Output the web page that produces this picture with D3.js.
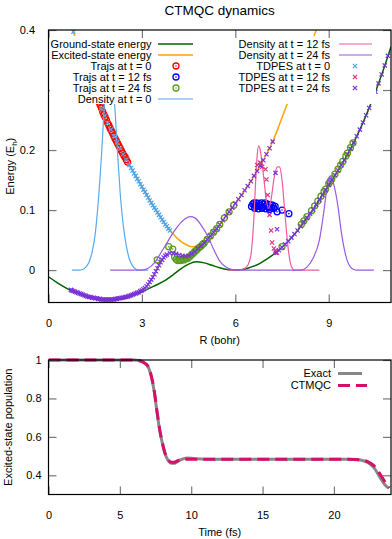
<!DOCTYPE html>
<html>
<head>
<meta charset="utf-8">
<script src="https://cdn.jsdelivr.net/npm/d3@7"></script>
<style>
body { margin: 0; background: #fff; }
text { font-family: "Liberation Sans", Arial, sans-serif; font-size: 11px; fill: #000; }
</style>
</head>
<body>
<div id="chart"></div>
<script>
// ---- top panel data: [R (bohr), E (Eh)] ----
var groundPts = [[0,-0.011],[0.25,-0.020],[0.5,-0.028],[0.75,-0.035],[1,-0.040],[1.25,-0.045],[1.5,-0.048],[1.75,-0.050],[2,-0.050],[2.25,-0.049],[2.5,-0.046],[2.75,-0.041],[3,-0.036],[3.25,-0.030],[3.5,-0.024],[3.75,-0.017],[4,-0.008],[4.25,0.002],[4.5,0.010],[4.75,0.014],[5,0.012],[5.25,0.008],[5.5,0.004],[5.75,0.001],[6,0.000],[6.25,0.001],[6.5,0.005],[6.75,0.010],[7,0.018],[7.25,0.027],[7.5,0.038],[7.75,0.051],[8,0.066],[8.25,0.083],[8.5,0.101],[8.75,0.121],[9,0.142],[9.25,0.162],[9.5,0.183],[9.75,0.207],[10,0.234],[10.25,0.264],[10.5,0.297],[10.75,0.333],[11,0.372]];
var excitedPts = [[0.6,0.430],[0.78,0.400],[1.0,0.366],[1.2,0.337],[1.4,0.309],[1.6,0.282],[1.8,0.257],[2.0,0.234],[2.2,0.213],[2.4,0.193],[2.6,0.175],[2.8,0.157],[3.0,0.139],[3.2,0.121],[3.4,0.104],[3.6,0.088],[3.8,0.073],[4.0,0.060],[4.2,0.050],[4.4,0.043],[4.6,0.039],[4.8,0.039],[5.0,0.045],[5.2,0.056],[5.4,0.069],[5.6,0.083],[5.8,0.097],[6.0,0.111],[6.2,0.125],[6.4,0.140],[6.6,0.157],[6.8,0.174],[7.0,0.193],[7.2,0.214],[7.4,0.240],[7.6,0.268],[7.8,0.294],[8.0,0.320],[8.2,0.346],[8.4,0.373],[8.6,0.400],[8.8,0.428]];

var traj0 = [[1.58,0.285],[1.62,0.280],[1.66,0.275],[1.70,0.270],[1.74,0.264],[1.78,0.259],[1.82,0.255],[1.86,0.250],[1.90,0.245],[1.94,0.241],[1.98,0.236],[2.02,0.232],[2.06,0.228],[2.10,0.223],[2.14,0.219],[2.18,0.215],[2.22,0.211],[2.26,0.207],[2.30,0.203],[2.34,0.199],[2.38,0.195],[2.42,0.191],[2.46,0.188],[2.50,0.184],[2.54,0.180]];
var traj12 = [[6.52,0.106],[6.56,0.110],[6.60,0.112],[6.64,0.108],[6.68,0.112],[6.72,0.106],[6.76,0.111],[6.80,0.108],[6.84,0.112],[6.88,0.105],[6.92,0.110],[6.96,0.112],[7.00,0.106],[7.04,0.110],[7.08,0.104],[7.12,0.109],[7.16,0.104],[7.20,0.108],[7.24,0.103],[7.28,0.106],[6.62,0.103],[6.74,0.102],[6.86,0.103],[6.98,0.102],[7.10,0.101],[7.34,0.097],[7.50,0.100],[7.72,0.094]];
var traj24 = [[3.49,0.017],[3.86,0.039],[3.99,0.035],[4.05,0.022],[4.10,0.018],[4.15,0.016],[4.20,0.018],[4.25,0.016],[4.30,0.019],[4.35,0.017],[4.40,0.020],[4.45,0.019],[4.50,0.021],[4.55,0.023],[4.60,0.026],[4.65,0.028],[4.70,0.031],[4.75,0.033],[4.80,0.036],[4.85,0.038],[4.90,0.040],[4.95,0.043],[5.00,0.045],[5.10,0.051],[5.20,0.057],[5.30,0.063],[5.40,0.069],[5.50,0.076],[5.65,0.087],[5.80,0.097],[5.95,0.108],[7.50,0.039],[8.12,0.076],[8.20,0.082],[8.30,0.089],[8.45,0.099],[8.55,0.107],[8.65,0.115],[8.75,0.123],[8.85,0.131],[8.90,0.135],[9.00,0.144],[9.05,0.148],[9.10,0.152],[9.20,0.160],[9.30,0.168],[9.38,0.175],[9.45,0.181],[9.55,0.190],[9.60,0.195],[9.70,0.204],[9.78,0.212]];

var dens0 = [[0.75,0],[1.0,0],[1.1,0.001],[1.2,0.005],[1.3,0.013],[1.4,0.03],[1.5,0.06],[1.55,0.085],[1.6,0.115],[1.65,0.15],[1.7,0.19],[1.75,0.235],[1.8,0.28],[1.85,0.32],[1.9,0.345],[1.95,0.355],[2.0,0.35],[2.05,0.33],[2.1,0.295],[2.15,0.255],[2.2,0.21],[2.25,0.17],[2.3,0.13],[2.35,0.1],[2.4,0.075],[2.5,0.04],[2.6,0.018],[2.7,0.007],[2.8,0.002],[2.9,0],[3.2,0]];
var dens12 = [[5.75,0],[6.1,0],[6.2,0.001],[6.3,0.003],[6.4,0.008],[6.5,0.025],[6.55,0.05],[6.6,0.09],[6.65,0.145],[6.7,0.19],[6.75,0.207],[6.8,0.2],[6.9,0.16],[7.0,0.115],[7.07,0.103],[7.15,0.118],[7.25,0.155],[7.35,0.172],[7.42,0.172],[7.5,0.15],[7.6,0.09],[7.7,0.035],[7.8,0.006],[7.9,0],[8.7,0]];
var dens24 = [[1.98,0],[3.0,0],[3.2,0.003],[3.4,0.012],[3.6,0.028],[3.8,0.045],[4.0,0.062],[4.2,0.076],[4.4,0.086],[4.55,0.089],[4.7,0.087],[4.9,0.075],[5.1,0.058],[5.3,0.035],[5.5,0.015],[5.7,0.005],[5.9,0.001],[6.1,0],[8.1,0],[8.3,0.005],[8.5,0.02],[8.7,0.05],[8.85,0.1],[8.95,0.14],[9.05,0.157],[9.15,0.145],[9.3,0.105],[9.4,0.065],[9.5,0.035],[9.6,0.015],[9.7,0.005],[9.8,0.001],[9.9,0],[10.45,0]];

var tdpes0 = [[0.8,0.397],[0.9,0.382],[1.0,0.366],[1.1,0.351],[1.2,0.337],[1.3,0.323],[1.4,0.309],[1.5,0.295],[1.6,0.282],[1.7,0.269],[1.8,0.257],[1.9,0.245],[2.0,0.234],[2.1,0.223],[2.2,0.213],[2.3,0.203],[2.4,0.193],[2.5,0.184],[2.6,0.175],[2.65,0.170],[2.7,0.166],[2.75,0.161],[2.8,0.157],[2.85,0.152],[2.9,0.148],[2.95,0.143],[3.0,0.139],[3.05,0.134],[3.1,0.130],[3.15,0.125],[3.2,0.121],[3.25,0.116],[3.3,0.112],[3.35,0.108],[3.4,0.104],[3.45,0.100],[3.5,0.096],[3.55,0.092],[3.6,0.088],[3.65,0.084],[3.7,0.080],[3.75,0.076],[3.8,0.073],[3.85,0.069],[3.9,0.066]];
var tdpes12 = [[6.70,0.175],[6.80,0.179],[6.86,0.172],[6.97,0.168],[7.00,0.151],[7.04,0.125],[7.10,0.092],[7.15,0.066],[7.18,0.046],[7.24,0.036],[7.29,0.032],[7.34,0.029]];
var tdpes24 = [[0.72,-0.033],[0.75,-0.034],[0.8,-0.035],[0.85,-0.036],[0.9,-0.037],[0.95,-0.038],[1.0,-0.039],[1.05,-0.040],[1.1,-0.041],[1.15,-0.042],[1.2,-0.043],[1.25,-0.044],[1.3,-0.045],[1.35,-0.045],[1.4,-0.046],[1.45,-0.046],[1.5,-0.047],[1.55,-0.047],[1.6,-0.048],[1.65,-0.048],[1.7,-0.049],[1.75,-0.049],[1.8,-0.049],[1.85,-0.049],[1.9,-0.049],[1.95,-0.049],[2.0,-0.049],[2.05,-0.049],[2.1,-0.049],[2.15,-0.048],[2.2,-0.048],[2.25,-0.047],[2.3,-0.047],[2.35,-0.046],[2.4,-0.046],[2.45,-0.045],[2.5,-0.045],[2.55,-0.044],[2.6,-0.043],[2.65,-0.042],[2.7,-0.041],[2.75,-0.040],[2.8,-0.039],[2.85,-0.038],[2.9,-0.037],[2.95,-0.035],[3.0,-0.034],[3.05,-0.032],[3.1,-0.030],[3.15,-0.027],
  [3.2,-0.024],[3.25,-0.020],[3.3,-0.016],[3.35,-0.012],[3.4,-0.007],[3.45,-0.002],[3.5,0.003],[3.55,0.008],[3.6,0.013],[3.65,0.017],[3.7,0.021],[3.75,0.024],[3.8,0.026],[3.9,0.028],[4.0,0.028],[4.1,0.027],[4.2,0.025],[4.3,0.024],[4.4,0.023],[4.5,0.024],[4.6,0.027],
  [4.7,0.031],[4.8,0.036],[4.9,0.040],[5.0,0.045],[5.1,0.051],[5.2,0.057],[5.3,0.063],[5.4,0.069],[5.5,0.076],[5.6,0.083],[5.7,0.090],[5.8,0.097],[5.9,0.104],[6.0,0.111],[6.1,0.118],[6.2,0.125],[6.3,0.133],[6.4,0.140],[6.5,0.148],[6.6,0.157],[6.7,0.165],[6.8,0.174],[6.9,0.183],[7.0,0.193],[7.1,0.203],[7.2,0.214],
  [7.29,0.162],[7.34,0.068],
  [7.3,0.029],[7.4,0.033],[7.5,0.038],[7.6,0.043],[7.7,0.048],[7.8,0.054],[7.9,0.060],[8.0,0.066],[8.1,0.073],[8.2,0.080],[8.3,0.087],[8.4,0.094],[8.5,0.101],[8.6,0.109],[8.7,0.117],[8.8,0.125],[8.9,0.133],[9.0,0.142],[9.1,0.150],[9.2,0.158],[9.3,0.166],[9.4,0.175],[9.5,0.183],[9.6,0.193],[9.7,0.202],[9.8,0.212],[9.9,0.223],[10.0,0.234],[10.1,0.246],[10.2,0.258],[10.3,0.270],[10.4,0.283],[10.5,0.297],[10.6,0.311],[10.7,0.326],[10.8,0.341],[10.9,0.357]];

var rTicks = [0, 3, 6, 9];
var eTicks = [0, 0.1, 0.2, 0.3, 0.4];
var eTickLabels = [0, 0.1, 0.2, 0.4];

// ---- bottom panel data: [time (fs), population] ----
var popExact = [[0,1],[6.0,1],[6.4,0.996],[6.7,0.985],[7.0,0.962],[7.2,0.915],[7.4,0.84],[7.6,0.73],[7.8,0.63],[8.0,0.56],[8.2,0.505],[8.4,0.475],[8.6,0.463],[8.8,0.462],[9.0,0.47],[9.3,0.482],[9.7,0.49],[10.2,0.487],[11,0.484],[16,0.484],[21,0.483],[21.6,0.481],[22.0,0.477],[22.4,0.465],[22.8,0.44],[23.2,0.393],[23.6,0.348],[23.85,0.332]];
var popCtmqc = [[0,1],[6.0,1],[6.4,0.996],[6.7,0.986],[7.0,0.964],[7.2,0.918],[7.4,0.845],[7.6,0.735],[7.8,0.635],[8.0,0.562],[8.2,0.508],[8.4,0.48],[8.6,0.468],[8.8,0.468],[9.0,0.474],[9.3,0.481],[9.7,0.484],[10.2,0.484],[11,0.484],[16,0.484],[21,0.483],[21.6,0.482],[22.0,0.479],[22.4,0.47],[22.8,0.45],[23.2,0.41],[23.6,0.363],[23.9,0.335]];
var timeTicks = [0, 5, 10, 15, 20];
var popTicks = [0.4, 0.6, 0.8, 1];

var svg = d3.select("#chart").append("svg")
    .attr("width", 392)
    .attr("height", 539);

var crossPath = "M-2.1,-2.1L2.1,2.1M-2.1,2.1L2.1,-2.1";

function circles(g, pts, color, x, y) {
    var s = g.append("g");
    s.selectAll("circle.o").data(pts).enter().append("circle")
        .attr("cx", d => x(d[0])).attr("cy", d => y(d[1]))
        .attr("r", 3).attr("fill", "none")
        .attr("stroke", color).attr("stroke-width", 1.3);
    s.selectAll("circle.c").data(pts).enter().append("circle")
        .attr("cx", d => x(d[0])).attr("cy", d => y(d[1]))
        .attr("r", 0.8).attr("fill", color);
}

function crosses(g, pts, color, x, y) {
    g.append("g").selectAll("path").data(pts).enter().append("path")
        .attr("d", crossPath)
        .attr("transform", d => "translate(" + x(d[0]) + "," + y(d[1]) + ")")
        .attr("fill", "none").attr("stroke", color).attr("stroke-width", 1.2);
}

function styleAxis(g) {
    g.select(".domain").remove();
    g.selectAll(".tick line").attr("stroke", "#777").attr("stroke-width", 1.2);
    g.selectAll(".tick text").attr("font-size", 11).attr("font-family", "Liberation Sans, Arial, sans-serif").attr("fill", "#000");
}

function drawTop() {
    var L = 48.5, R = 391, T = 30, B = 302.5;
    var x = d3.scaleLinear().domain([0, 11]).range([L, R]);
    var y = d3.scaleLinear().domain([-0.054, 0.4]).range([B, T]);

    svg.append("clipPath").attr("id", "clipTop")
        .append("rect").attr("x", L).attr("y", T).attr("width", R - L).attr("height", B - T);

    var plot = svg.append("g").attr("clip-path", "url(#clipTop)");
    var line = d3.line().x(d => x(d[0])).y(d => y(d[1])).curve(d3.curveMonotoneX);

    function curve(pts, color, w) {
        plot.append("path").datum(pts).attr("d", line)
            .attr("fill", "none").attr("stroke", color).attr("stroke-width", w);
    }

    curve(groundPts, "#006400", 1.5);
    curve(excitedPts, "#ffa500", 1.5);
    circles(plot, traj0, "#ff0000", x, y);
    circles(plot, traj12, "#0000ff", x, y);
    circles(plot, traj24, "#5a9e1e", x, y);
    curve(dens0, "#56aaf0", 1.2);
    curve(dens12, "#f05aa0", 1.2);
    curve(dens24, "#9a5ae0", 1.2);
    crosses(plot, tdpes0, "#4aa3e8", x, y);
    crosses(plot, tdpes12, "#e0307a", x, y);
    crosses(plot, tdpes24, "#7b30d8", x, y);

    // opaque key
    svg.append("rect").attr("x", 50).attr("y", 36).attr("width", 326).attr("height", 68).attr("fill", "#fff");
    var key = svg.append("g");
    var leftKey = ["Ground-state energy", "Excited-state energy", "Trajs at t = 0", "Trajs at t = 12 fs", "Trajs at t = 24 fs", "Density at t = 0"];
    var rightKey = ["Density at t = 12 fs", "Density at t = 24 fs", "TDPES at t = 0", "TDPES at t = 12 fs", "TDPES at t = 24 fs"];
    leftKey.forEach(function(t, i) {
        key.append("text").attr("x", 151.5).attr("y", 44 + 11 * i).attr("dy", "0.35em")
            .attr("text-anchor", "end").text(t);
    });
    rightKey.forEach(function(t, i) {
        key.append("text").attr("x", 330).attr("y", 44 + 11 * i).attr("dy", "0.35em")
            .attr("text-anchor", "end").text(t);
    });
    function keyLine(x0, x1, yy, color, w) {
        key.append("line").attr("x1", x0).attr("x2", x1).attr("y1", yy).attr("y2", yy)
            .attr("stroke", color).attr("stroke-width", w);
    }
    keyLine(158, 193, 44, "#006400", 1.5);
    keyLine(158, 193, 55, "#ffa500", 1.5);
    var idX = d3.scaleLinear().domain([0, 1]).range([0, 1]);
    circles(key, [[176, 66]], "#ff0000", idX, idX);
    circles(key, [[176, 77]], "#0000ff", idX, idX);
    circles(key, [[176, 88]], "#5a9e1e", idX, idX);
    keyLine(158, 193, 99, "#56aaf0", 1.2);
    keyLine(339, 372, 44, "#f05aa0", 1.2);
    keyLine(339, 372, 55, "#9a5ae0", 1.2);
    crosses(key, [[355, 66]], "#4aa3e8", idX, idX);
    crosses(key, [[355, 77]], "#e0307a", idX, idX);
    crosses(key, [[355, 88]], "#7b30d8", idX, idX);

    // axes
    svg.append("g").attr("transform", "translate(" + L + ",0)")
        .call(d3.axisLeft(y).tickValues(eTicks).tickSizeInner(-8).tickSizeOuter(0).tickPadding(13.5)
            .tickFormat(d => eTickLabels.indexOf(d) >= 0 ? String(d) : ""))
        .call(styleAxis);
    svg.append("g").attr("transform", "translate(" + R + ",0)")
        .call(d3.axisRight(y).tickValues(eTicks).tickSizeInner(-8).tickSizeOuter(0).tickFormat(""))
        .call(styleAxis);
    svg.append("g").attr("transform", "translate(0," + B + ")")
        .call(d3.axisBottom(x).tickValues(rTicks).tickSizeInner(-8).tickSizeOuter(0).tickPadding(16.5))
        .call(styleAxis);
    svg.append("g").attr("transform", "translate(0," + T + ")")
        .call(d3.axisTop(x).tickValues(rTicks).tickSizeInner(-8).tickSizeOuter(0).tickFormat(""))
        .call(styleAxis);
    // the key also hides the left 0.3 tick
    svg.append("rect").attr("x", 50).attr("y", 86).attr("width", 10).attr("height", 8).attr("fill", "#fff");

    svg.append("rect").attr("x", L).attr("y", T).attr("width", R - L).attr("height", B - T)
        .attr("fill", "none").attr("stroke", "#000").attr("stroke-width", 1.2);

    svg.append("text").attr("x", 219.7).attr("y", 14.5).attr("text-anchor", "middle")
        .style("font-size", "13.5px").text("CTMQC dynamics");
    svg.append("text").attr("x", 219.7).attr("y", 344).attr("text-anchor", "middle").text("R (bohr)");
    var yl = svg.append("text").attr("transform", "translate(14," + ((T + B) / 2) + ") rotate(-90)")
        .attr("text-anchor", "middle");
    yl.append("tspan").text("Energy (E");
    yl.append("tspan").attr("dy", 2.5).style("font-size", "8px").text("h");
    yl.append("tspan").attr("dy", -2.5).text(")");
}

function drawBottom() {
    var L = 48.5, R = 391, T = 360, B = 494.5;
    var x = d3.scaleLinear().domain([0, 24]).range([L, R]);
    var y = d3.scaleLinear().domain([0.3, 1]).range([B, T]);

    svg.append("clipPath").attr("id", "clipBot")
        .append("rect").attr("x", L).attr("y", T - 2).attr("width", R - L).attr("height", B - T + 2);
    var plot = svg.append("g").attr("clip-path", "url(#clipBot)");
    var line = d3.line().x(d => x(d[0])).y(d => y(d[1])).curve(d3.curveMonotoneX);

    plot.append("path").datum(popExact).attr("d", line)
        .attr("fill", "none").attr("stroke", "#888888").attr("stroke-width", 3);
    plot.append("path").datum(popCtmqc).attr("d", line)
        .attr("fill", "none").attr("stroke", "#d6106a").attr("stroke-width", 3)
        .attr("stroke-dasharray", "12,6");

    svg.append("text").attr("x", 331).attr("y", 373.5).attr("dy", "0.35em").attr("text-anchor", "end").text("Exact");
    svg.append("text").attr("x", 331).attr("y", 385.5).attr("dy", "0.35em").attr("text-anchor", "end").text("CTMQC");
    svg.append("line").attr("x1", 338).attr("x2", 362).attr("y1", 373.5).attr("y2", 373.5)
        .attr("stroke", "#888888").attr("stroke-width", 3);
    svg.append("line").attr("x1", 338).attr("x2", 367).attr("y1", 385.5).attr("y2", 385.5)
        .attr("stroke", "#d6106a").attr("stroke-width", 3).attr("stroke-dasharray", "12,6");

    svg.append("g").attr("transform", "translate(" + L + ",0)")
        .call(d3.axisLeft(y).tickValues(popTicks).tickSizeInner(-8).tickSizeOuter(0).tickPadding(7).tickFormat(d => String(d)))
        .call(styleAxis);
    svg.append("g").attr("transform", "translate(" + R + ",0)")
        .call(d3.axisRight(y).tickValues(popTicks).tickSizeInner(-8).tickSizeOuter(0).tickFormat(""))
        .call(styleAxis);
    svg.append("g").attr("transform", "translate(0," + B + ")")
        .call(d3.axisBottom(x).tickValues(timeTicks).tickSizeInner(-8).tickSizeOuter(0).tickPadding(16.5))
        .call(styleAxis);
    svg.append("g").attr("transform", "translate(0," + T + ")")
        .call(d3.axisTop(x).tickValues(timeTicks).tickSizeInner(-8).tickSizeOuter(0).tickFormat(""))
        .call(styleAxis);

    svg.append("rect").attr("x", L).attr("y", T).attr("width", R - L).attr("height", B - T)
        .attr("fill", "none").attr("stroke", "#000").attr("stroke-width", 1.2);

    svg.append("text").attr("x", 219.7).attr("y", 536).attr("text-anchor", "middle").text("Time (fs)");
    svg.append("text").attr("transform", "translate(12," + ((T + B) / 2) + ") rotate(-90)")
        .attr("text-anchor", "middle").text("Excited-state population");
}

drawTop();
drawBottom();
</script>
</body>
</html>
